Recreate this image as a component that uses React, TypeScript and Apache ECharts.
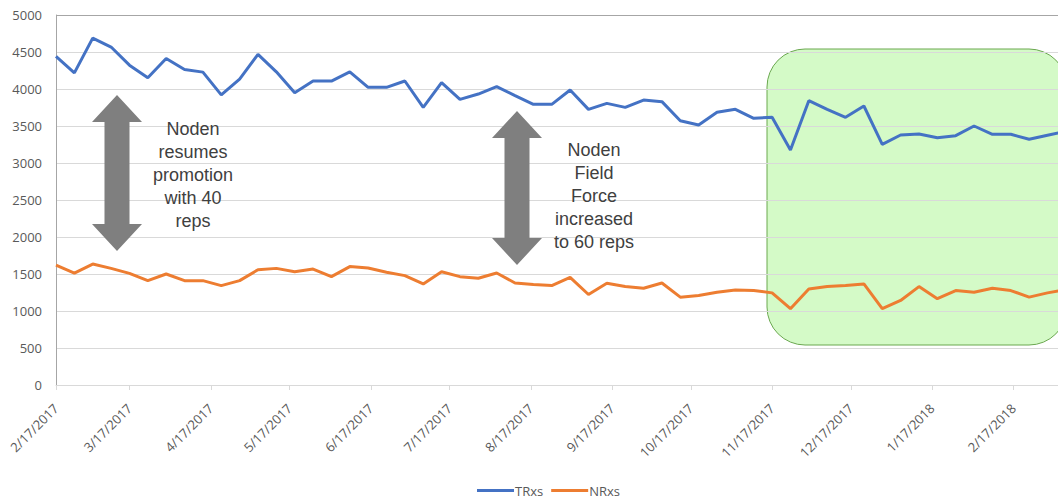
import React, { useEffect, useRef } from "react";
import * as echarts from "echarts";

// Weekly dates (week ending)
const weekDates = [
  "2017-02-17", "2017-02-24", "2017-03-03", "2017-03-10", "2017-03-17", "2017-03-24", "2017-03-31",
  "2017-04-07", "2017-04-14", "2017-04-21", "2017-04-28", "2017-05-05", "2017-05-12", "2017-05-19",
  "2017-05-26", "2017-06-02", "2017-06-09", "2017-06-16", "2017-06-23", "2017-06-30", "2017-07-07",
  "2017-07-14", "2017-07-21", "2017-07-28", "2017-08-04", "2017-08-11", "2017-08-18", "2017-08-25",
  "2017-09-01", "2017-09-08", "2017-09-15", "2017-09-22", "2017-09-29", "2017-10-06", "2017-10-13",
  "2017-10-20", "2017-10-27", "2017-11-03", "2017-11-10", "2017-11-17", "2017-11-24", "2017-12-01",
  "2017-12-08", "2017-12-15", "2017-12-22", "2017-12-29", "2018-01-05", "2018-01-12", "2018-01-19",
  "2018-01-26", "2018-02-02", "2018-02-09", "2018-02-16", "2018-02-23", "2018-03-02", "2018-03-09",
];

const trxs = [
  4442, 4218, 4688, 4567, 4322, 4151, 4412, 4264, 4228, 3920, 4134, 4469, 4232, 3950,
  4107, 4107, 4232, 4023, 4023, 4108, 3752, 4086, 3860, 3932, 4032, 3910, 3793, 3793,
  3986, 3725, 3806, 3752, 3851, 3829, 3572, 3514, 3685, 3725, 3604, 3617, 3176, 3842,
  3725, 3617, 3770, 3252, 3378, 3392, 3342, 3369, 3500, 3388, 3388, 3320, 3375, 3430,
];

const nrxs = [
  1621, 1513, 1634, 1576, 1509, 1410, 1500, 1410, 1410, 1343, 1410, 1558, 1576, 1531,
  1567, 1464, 1600, 1580, 1523, 1478, 1366, 1531, 1464, 1442, 1513, 1379, 1357, 1343,
  1455, 1223, 1375, 1330, 1308, 1379, 1187, 1210, 1254, 1285, 1276, 1245, 1031, 1298,
  1330, 1343, 1366, 1031, 1142, 1330, 1166, 1276, 1254, 1308, 1276, 1187, 1245, 1290,
];

const xTickLabels = [
  "2/17/2017", "3/17/2017", "4/17/2017", "5/17/2017", "6/17/2017", "7/17/2017", "8/17/2017",
  "9/17/2017", "10/17/2017", "11/17/2017", "12/17/2017", "1/17/2018", "2/17/2018",
];

const seriesNames = ["TRxs", "NRxs"];
const axisStart = "2017-02-17";
const axisEnd = "2018-03-06";

const note1 = "Noden\nresumes\npromotion\nwith 40\nreps";
const note2 = "Noden\nField\nForce\nincreased\nto 60 reps";

function parseMDY(s: string): number {
  const [m, d, y] = s.split("/").map(Number);
  return Date.UTC(y, m - 1, d);
}

function arrowPoints(cx: number, top: number, bottom: number) {
  const headH = 27;
  const headHalf = 25;
  const shaftHalf = 12.5;
  return [
    [cx, top],
    [cx + headHalf, top + headH],
    [cx + shaftHalf, top + headH],
    [cx + shaftHalf, bottom - headH],
    [cx + headHalf, bottom - headH],
    [cx, bottom],
    [cx - headHalf, bottom - headH],
    [cx - shaftHalf, bottom - headH],
    [cx - shaftHalf, top + headH],
    [cx - headHalf, top + headH],
  ];
}

export default function App() {
  const ref = useRef<HTMLDivElement>(null);

  useEffect(() => {
    if (!ref.current) return;
    const chart = echarts.init(ref.current, undefined, { renderer: "svg" });
    const tickValues = xTickLabels.map(parseMDY);
    const labelMap: Record<number, string> = {};
    tickValues.forEach((v, i) => (labelMap[v] = xTickLabels[i]));

    const gridColors = Array.from({ length: 11 }, (_, i) => (i === 10 ? "#a6a6a6" : "#d9d9d9"));

    const labelFont = '"Open Sans", "Liberation Sans", sans-serif';
    const noteStyle = {
      fontSize: 18,
      fontFamily: '"Liberation Sans", Arial, sans-serif',
      lineHeight: 23,
      fill: "#404040",
      align: "center",
      verticalAlign: "top",
    };

    chart.setOption({
      animation: false,
      backgroundColor: "#ffffff",
      grid: { left: 56, right: 0, top: 15, bottom: 113, containLabel: false },
      xAxis: {
        type: "value",
        min: Date.parse(axisStart),
        max: Date.parse(axisEnd),
        axisLine: { show: true, lineStyle: { color: "#d9d9d9", width: 1 } },
        axisTick: {
          show: true,
          customValues: tickValues,
          length: 5,
          lineStyle: { color: "#d9d9d9" },
        },
        axisLabel: {
          customValues: tickValues,
          rotate: 45,
          margin: 21,
          color: "#595959",
          fontSize: 13,
          fontFamily: labelFont,
          formatter: (v: number) => labelMap[v] ?? "",
        },
        splitLine: { show: false },
      },
      yAxis: {
        type: "value",
        min: 0,
        max: 5000,
        interval: 500,
        axisLine: { show: true, lineStyle: { color: "#a6a6a6", width: 1 } },
        axisTick: { show: false },
        axisLabel: {
          color: "#595959",
          fontSize: 13,
          fontFamily: labelFont,
          margin: 14,
          formatter: (v: number) => String(v),
        },
        splitLine: { show: true, lineStyle: { color: gridColors, width: 1 } },
      },
      legend: {
        left: 472,
        top: 479,
        icon: "rect",
        itemWidth: 37,
        itemHeight: 3,
        itemGap: 8,
        textStyle: { color: "#595959", fontSize: 13, fontFamily: labelFont, padding: [0, 0, 0, -4] },
        data: seriesNames,
      },
      series: [
        {
          name: seriesNames[0],
          type: "line",
          showSymbol: false,
          clip: true,
          z: 3,
          lineStyle: { color: "#4472c4", width: 3 },
          itemStyle: { color: "#4472c4" },
          data: weekDates.map((d, i) => [Date.parse(d), trxs[i]]),
        },
        {
          name: seriesNames[1],
          type: "line",
          showSymbol: false,
          clip: true,
          z: 3,
          lineStyle: { color: "#ed7d31", width: 3 },
          itemStyle: { color: "#ed7d31" },
          data: weekDates.map((d, i) => [Date.parse(d), nrxs[i]]),
        },
      ],
      graphic: {
        elements: [
          {
            type: "rect",
            z: -1,
            shape: { x: 767, y: 49, width: 300, height: 296, r: 38 },
            style: { fill: "rgba(160, 245, 130, 0.45)", stroke: "#6aa84f", lineWidth: 1 },
          },
          {
            type: "polygon",
            z: 5,
            shape: { points: arrowPoints(117, 95, 251) },
            style: { fill: "#7f7f7f" },
          },
          {
            type: "polygon",
            z: 5,
            shape: { points: arrowPoints(517, 111, 265) },
            style: { fill: "#7f7f7f" },
          },
          { type: "text", z: 5, style: { ...noteStyle, text: note1, x: 193, y: 117 } },
          { type: "text", z: 5, style: { ...noteStyle, text: note2, x: 594, y: 138 } },
        ],
      },
    });

    return () => chart.dispose();
  }, []);

  return (
    <div
      ref={ref}
      style={{ position: "fixed", left: 0, top: 0, width: 1058, height: 498, background: "#fff" }}
    />
  );
}
